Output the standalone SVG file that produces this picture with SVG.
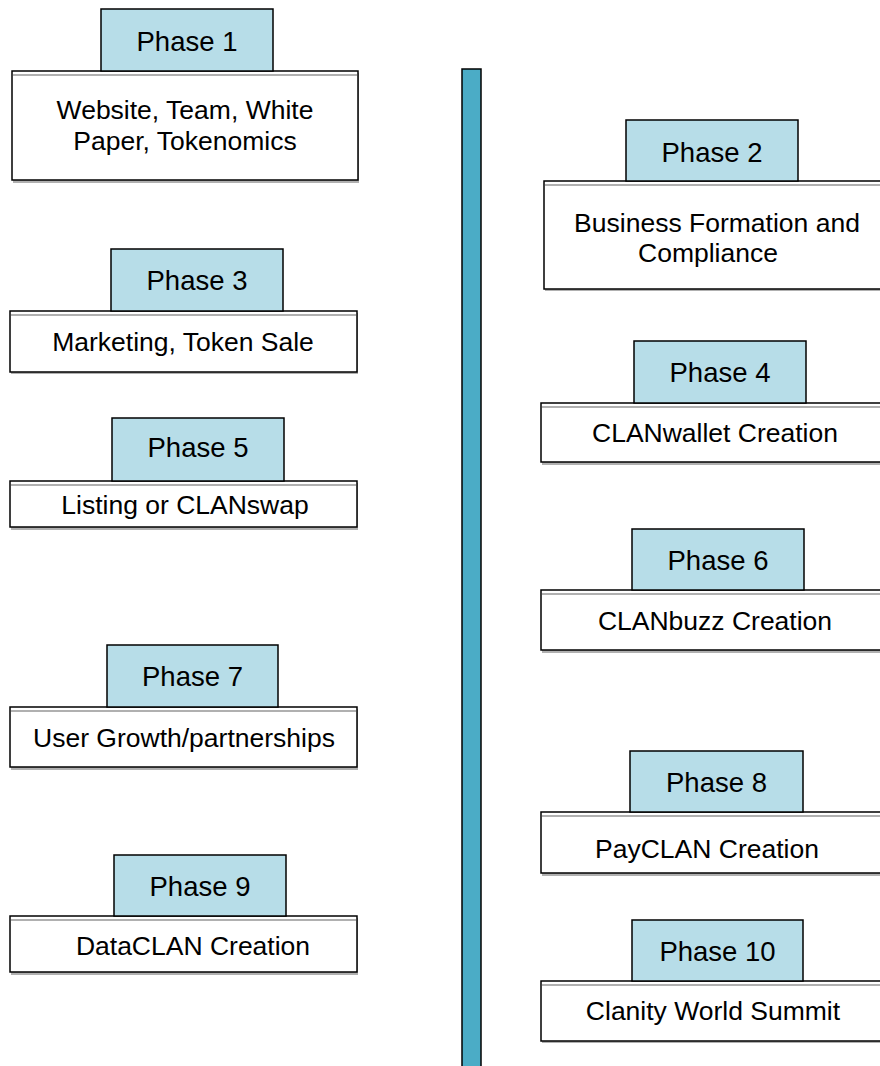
<svg xmlns="http://www.w3.org/2000/svg" width="880" height="1066" viewBox="0 0 880 1066">
<style>
text{font-family:"Liberation Sans",Arial,sans-serif;font-size:26.5px;fill:#000;text-anchor:middle}
.ph{font-size:27.5px}
.tab{fill:#B7DDE8;stroke:#000;stroke-width:1.5}
.box{fill:#fff;stroke:#000;stroke-width:1.5}
.shd{fill:#b0b0b0}
.hl{stroke:#b0b0b0;stroke-width:2}
.bar{fill:#4BACC6;stroke:#000;stroke-width:1.5}
</style>
<rect width="880" height="1066" fill="#fff"/>
<g id="connectors">
<rect class="bar" x="462" y="69" width="19" height="1000"/>
</g>
<g id="p1">
<rect class="shd" x="13" y="73" width="346" height="110"/>
<rect class="box" x="12" y="71" width="346" height="109"/>
<line class="hl" x1="13" y1="75" x2="357" y2="75"/>
<rect class="tab" x="101" y="9" width="172" height="62"/>
<text class="ph" x="187" y="51">Phase 1</text>
<text x="185" y="119">Website, Team, White</text>
<text x="185" y="150">Paper, Tokenomics</text>
</g>
<g id="p3">
<rect class="shd" x="11" y="313" width="347" height="61"/>
<rect class="box" x="10" y="311" width="347" height="61"/>
<line class="hl" x1="11" y1="315" x2="356" y2="315"/>
<rect class="tab" x="111" y="249" width="172" height="62"/>
<text class="ph" x="197" y="290">Phase 3</text>
<text x="183" y="351">Marketing, Token Sale</text>
</g>
<g id="p5">
<rect class="shd" x="11" y="483" width="347" height="47"/>
<rect class="box" x="10" y="481" width="347" height="46"/>
<line class="hl" x1="11" y1="485" x2="356" y2="485"/>
<rect class="tab" x="112" y="418" width="172" height="63"/>
<text class="ph" x="198" y="457">Phase 5</text>
<text x="185" y="514">Listing or CLANswap</text>
</g>
<g id="p7">
<rect class="shd" x="11" y="709" width="347" height="61"/>
<rect class="box" x="10" y="707" width="347" height="60"/>
<line class="hl" x1="11" y1="711" x2="356" y2="711"/>
<rect class="tab" x="107" y="645" width="171" height="62"/>
<text class="ph" x="192.5" y="686">Phase 7</text>
<text x="184" y="747">User Growth/partnerships</text>
</g>
<g id="p9">
<rect class="shd" x="11" y="918" width="347" height="57"/>
<rect class="box" x="10" y="916" width="347" height="56"/>
<line class="hl" x1="11" y1="920" x2="356" y2="920"/>
<rect class="tab" x="114" y="855" width="172" height="61"/>
<text class="ph" x="200" y="896">Phase 9</text>
<text x="193" y="955">DataCLAN Creation</text>
</g>
<g id="p2">
<rect class="shd" x="545" y="183" width="345" height="108"/>
<rect class="box" x="544" y="181" width="345" height="108"/>
<line class="hl" x1="545" y1="185" x2="890" y2="185"/>
<rect class="tab" x="626" y="120" width="172" height="61"/>
<text class="ph" x="712" y="162">Phase 2</text>
<text x="717" y="232">Business Formation and</text>
<text x="708" y="262">Compliance</text>
</g>
<g id="p4">
<rect class="shd" x="542" y="405" width="348" height="60"/>
<rect class="box" x="541" y="403" width="348" height="59"/>
<line class="hl" x1="542" y1="407" x2="890" y2="407"/>
<rect class="tab" x="634" y="341" width="172" height="62"/>
<text class="ph" x="720" y="382">Phase 4</text>
<text x="715" y="442">CLANwallet Creation</text>
</g>
<g id="p6">
<rect class="shd" x="542" y="592" width="348" height="61"/>
<rect class="box" x="541" y="590" width="348" height="60"/>
<line class="hl" x1="542" y1="594" x2="890" y2="594"/>
<rect class="tab" x="632" y="529" width="172" height="61"/>
<text class="ph" x="718" y="570">Phase 6</text>
<text x="715" y="630">CLANbuzz Creation</text>
</g>
<g id="p8">
<rect class="shd" x="542" y="814" width="348" height="62"/>
<rect class="box" x="541" y="812" width="348" height="61"/>
<line class="hl" x1="542" y1="816" x2="890" y2="816"/>
<rect class="tab" x="630" y="751" width="173" height="61"/>
<text class="ph" x="716.5" y="792">Phase 8</text>
<text x="707" y="858">PayCLAN Creation</text>
</g>
<g id="p10">
<rect class="shd" x="542" y="983" width="348" height="60"/>
<rect class="box" x="541" y="981" width="348" height="60"/>
<line class="hl" x1="542" y1="985" x2="890" y2="985"/>
<rect class="tab" x="632" y="920" width="171" height="61"/>
<text class="ph" x="717.5" y="961">Phase 10</text>
<text x="713" y="1020">Clanity World Summit</text>
</g>
</svg>
